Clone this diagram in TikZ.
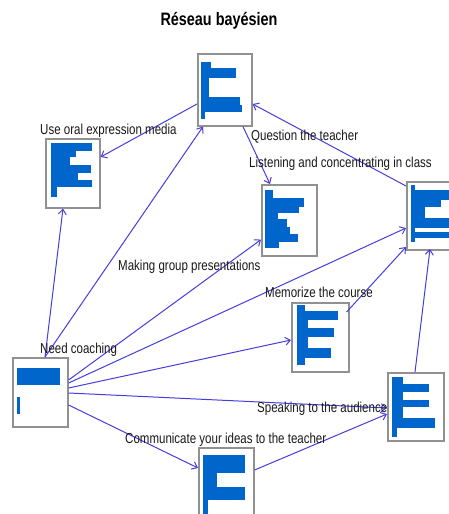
\documentclass[tikz,border=0pt]{standalone}
\usepackage{fontspec}
\setmainfont{Liberation Sans}
\newfontfamily\lblfont[FakeStretch=0.8]{Liberation Sans}
\usetikzlibrary{calc,arrows.meta}
\definecolor{barblue}{RGB}{0,102,204}
\definecolor{edgeblue}{RGB}{70,62,220}
\definecolor{boxgray}{RGB}{145,145,145}
\definecolor{txt}{RGB}{25,25,25}
\tikzset{
  netbox/.style={draw=boxgray, line width=1.6pt, fill=white, rectangle, inner sep=0pt, anchor=north west},
  bar/.style={fill=barblue},
  edge/.style={draw=edgeblue, line width=1pt, -{Straight Barb[length=5pt,width=8pt]}},
  lbl/.style={font=\lblfont\fontsize{14.4}{16}\selectfont, text=txt, inner sep=0pt, anchor=base west},
  ttl/.style={font=\lblfont\bfseries\fontsize{18}{20}\selectfont, text=black, inner sep=0pt, anchor=base}
}
\begin{document}
\begin{tikzpicture}[x=1pt,y=-1pt]
\useasboundingbox (0,0) rectangle (449,514);
\clip (0,0) rectangle (449,514);
\fill[white] (0,0) rectangle (449,514);

% title
\node[ttl] (title) at (219,25) {Réseau bayésien};

% boxes
\node[netbox, minimum width=54pt, minimum height=72pt] (Q) at (197,53) {};
\node[netbox, minimum width=54pt, minimum height=69pt] (U) at (45,138) {};
\node[netbox, minimum width=55pt, minimum height=71pt] (L) at (261,184) {};
\node[netbox, minimum width=60pt, minimum height=68pt] (R) at (406,181) {};
\node[netbox, minimum width=57pt, minimum height=69pt] (M) at (291,302) {};
\node[netbox, minimum width=55pt, minimum height=69pt] (N) at (12,357) {};
\node[netbox, minimum width=56pt, minimum height=68pt] (S) at (387,372) {};
\node[netbox, minimum width=55pt, minimum height=75pt] (C) at (198,447) {};

% bars Q
\fill[bar] (201,61.7) rectangle (211,68.3);
\fill[bar] (201,68.3) rectangle (235.7,78.3);
\fill[bar] (201,78.3) rectangle (209,96.7);
\fill[bar] (201,96.7) rectangle (240,105);
\fill[bar] (201,105) rectangle (242.3,111.7);
\fill[bar] (201,111.7) rectangle (205,119.3);
% bars U
\fill[bar] (51,143.3) rectangle (91.7,150.7);
\fill[bar] (51,150.7) rectangle (75.7,157.3);
\fill[bar] (51,157.3) rectangle (70,165);
\fill[bar] (51,165) rectangle (90.7,173.3);
\fill[bar] (51,173.3) rectangle (78.3,180);
\fill[bar] (51,180) rectangle (91.7,186.7);
\fill[bar] (51,186.7) rectangle (57.3,196.7);
% bars L
\fill[bar] (265,190) rectangle (273.3,198.3);
\fill[bar] (265,198.3) rectangle (304.3,206.7);
\fill[bar] (265,206.7) rectangle (299,212.7);
\fill[bar] (265,212.7) rectangle (277.7,219.3);
\fill[bar] (265,219.3) rectangle (287.3,226.7);
\fill[bar] (265,226.7) rectangle (290,234);
\fill[bar] (265,234) rectangle (297.7,241.7);
\fill[bar] (265,241.7) rectangle (279,248.3);
% bars R
\fill[bar] (411,185) rectangle (415,190);
\fill[bar] (411,190) rectangle (449,200);
\fill[bar] (411,200) rectangle (441,206.7);
\fill[bar] (411,206.7) rectangle (425,218.3);
\fill[bar] (411,218.3) rectangle (449,228);
\fill[bar] (411,228) rectangle (415,232);
\fill[bar] (411,232) rectangle (449,238);
\fill[bar] (411,238) rectangle (415,242);
% bars M
\fill[bar] (296.7,305) rectangle (305,311);
\fill[bar] (296.7,311) rectangle (337.7,320);
\fill[bar] (296.7,320) rectangle (307.7,328.3);
\fill[bar] (296.7,328.3) rectangle (334,336.7);
\fill[bar] (296.7,336.7) rectangle (307.7,348.3);
\fill[bar] (296.7,348.3) rectangle (331,358.3);
\fill[bar] (296.7,358.3) rectangle (305,365);
% bars N
\fill[bar] (17.3,368.3) rectangle (60,385);
\fill[bar] (17.3,397.3) rectangle (20,414);
% bars S
\fill[bar] (391.7,376.7) rectangle (403.3,384.3);
\fill[bar] (391.7,384.3) rectangle (429.3,391.7);
\fill[bar] (391.7,391.7) rectangle (402.7,400);
\fill[bar] (391.7,400) rectangle (429.3,406.7);
\fill[bar] (391.7,406.7) rectangle (402.7,418.3);
\fill[bar] (391.7,418.3) rectangle (435,428.3);
\fill[bar] (391.7,428.3) rectangle (396.7,436.7);
% bars C
\fill[bar] (203.3,455) rectangle (245,473.3);
\fill[bar] (203.3,473.3) rectangle (216.7,486.7);
\fill[bar] (203.3,486.7) rectangle (245,500);
\fill[bar] (203.3,500) rectangle (208.3,514);

% edges
\draw[edge] ($(Q.north west)+(0,51)$) -- ($(U.north east)+(0,19)$);
\draw[edge] ($(R.north west)+(0,5)$) -- ($(Q.north east)+(0,51)$);
\draw[edge] ($(Q.south west)+(46,0)$) -- ($(L.north west)+(9,0)$);
\draw[edge] ($(N.north west)+(33,0)$) -- ($(Q.south west)+(6,0)$);
\draw[edge] ($(N.north west)+(33,0)$) -- ($(U.south west)+(18,0)$);
\draw[edge] ($(N.north east)+(0,23)$) -- ($(L.south west)+(0,-17)$);
\draw[edge] ($(N.north east)+(0,26)$) -- ($(R.north west)+(0,47)$);
\draw[edge] ($(N.north east)+(0,31)$) -- ($(M.north west)+(0,38)$);
\draw[edge] ($(N.north east)+(0,36)$) -- ($(S.north west)+(0,36)$);
\draw[edge] ($(N.north east)+(0,48)$) -- ($(C.north west)+(0,21)$);
\draw[edge] ($(C.north east)+(0,23)$) -- ($(S.north west)+(0,42)$);
\draw[edge] ($(M.north east)+(-3,10)$) -- ($(R.north west)+(0,66)$);
\draw[edge] ($(S.north west)+(28,0)$) -- ($(R.north west)+(24,68)$);

% labels
\node[lbl] (lU) at (40,134) {Use oral expression media};
\node[lbl] (lQ) at (251,140) {Question the teacher};
\node[lbl] (lL) at (249,167) {Listening and concentrating in class};
\node[lbl] (lG) at (118,270) {Making group presentations};
\node[lbl] (lM) at (265,297) {Memorize the course};
\node[lbl] (lN) at (40,353) {Need coaching};
\node[lbl] (lS) at (257,412) {Speaking to the audience};
\node[lbl] (lC) at (125,443) {Communicate your ideas to the teacher};
\end{tikzpicture}
\end{document}
